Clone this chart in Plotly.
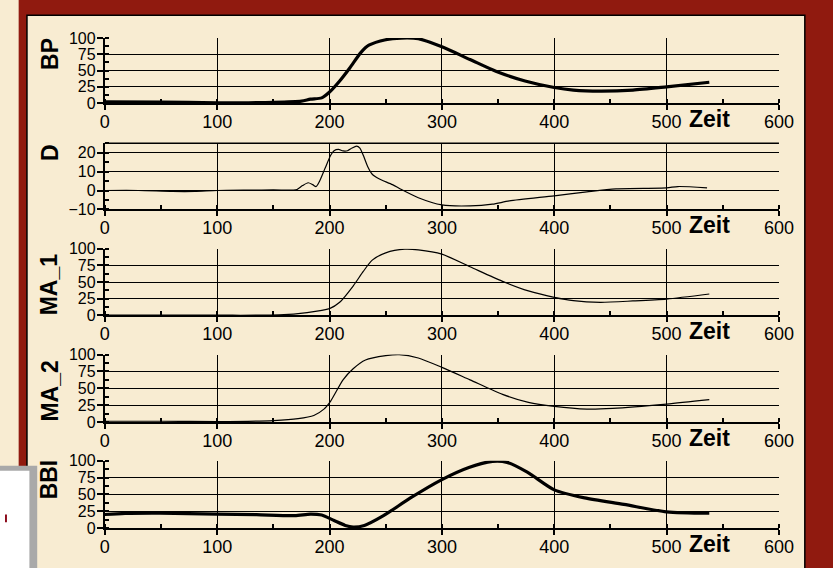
import plotly.graph_objects as go
from plotly.subplots import make_subplots

# data (Zeit on x)
bp_x = [0, 50, 100, 128, 150, 175, 183, 193, 200, 209, 218, 228, 235, 250, 264, 279, 300, 325, 348, 374, 400, 417, 441, 470, 500, 538]
bp_y = [2, 1.5, 0.5, 0.5, 1, 3, 6, 8, 17, 34, 54, 78, 89, 97.5, 100, 99, 86.5, 67, 49, 34, 24, 20, 18.4, 20, 25, 32]

d_x = [0, 30, 60, 80, 100, 130, 150, 168, 171, 176, 181, 185, 188, 191, 196, 201, 204, 208, 212, 216, 220, 224, 227,
       230, 234, 238, 244, 256, 264, 279, 300, 325, 345, 360, 400, 429, 455, 500, 510, 536]
d_y = [0, 0, -0.5, -0.5, 0, 0.2, 0.3, 0.2, 0.5, 2.6, 4.1, 3.1, 2.1, 4.8, 11.7, 18.6, 21, 21.7, 20.9, 21, 22.4, 23.4, 22.4,
       18.6, 12.6, 8.6, 6.2, 3.1, 0.5, -3.8, -7.6, -8.1, -7.2, -5.5, -2.8, -0.7, 0.9, 1.4, 2.1, 1.4]

ma1_x = [0, 100, 155, 180, 200, 209, 221, 230, 238, 250, 267, 279, 300, 325, 354, 377, 400, 417, 441, 470, 500, 538]
ma1_y = [0, 0, 0.5, 4, 10, 19.5, 44, 66, 83, 94, 99.5, 98.5, 92, 73, 51, 36.6, 27, 22, 19.5, 21.5, 24.4, 32]

ma2_x = [0, 50, 100, 150, 172, 186, 195, 201, 212, 221, 232, 250, 262, 279, 300, 325, 354, 377, 400, 429, 452, 500, 538]
ma2_y = [1, 1, 0.5, 2, 4.8, 9.6, 19, 31, 62.5, 79, 92, 98.5, 100, 95, 81, 62.5, 41, 29, 23, 19, 20, 26.4, 33]

bbi_x = [0, 18, 49, 100, 135, 169, 183, 193, 204, 214, 221, 231, 248, 272, 300, 324, 345, 358, 376, 400, 427, 462, 500, 538]
bbi_y = [20, 21.6, 22, 20.7, 19.7, 18.3, 20.7, 19.2, 11, 3.8, 1.4, 3.8, 18.3, 44.7, 72, 90, 99, 97.6, 83, 56.7, 44.7, 35, 24, 22]

panel_names = ["BP", "D", "MA_1", "MA_2", "BBI"]
series = [(bp_x, bp_y, 3.2), (d_x, d_y, 1.2), (ma1_x, ma1_y, 1.2), (ma2_x, ma2_y, 1.2), (bbi_x, bbi_y, 3.2)]

W, H = 833, 568
BG = "#F8ECD2"
RED = "#901A0F"
FONT = "Arial, Liberation Sans, sans-serif"


def fx(px):
    return px / W


def fy(py):
    return 1 - py / H


# pixel layout of the plot areas
x_left, x_right = 102.3, 793
panel_px = [(31, 98), (139.3, 207.7), (248.3, 316.7), (357.3, 426.7), (466.7, 536)]
title_px = [47.5, 148.5, 285, 394.5, 486]

fig = make_subplots(rows=5, cols=1)

for i, (xs, ys, lw) in enumerate(series):
    fig.add_trace(go.Scatter(x=xs, y=ys, mode="lines",
                             line=dict(color="black", width=lw, shape="spline", smoothing=0.7),
                             showlegend=False, hoverinfo="skip"),
                  row=i + 1, col=1)

for i in range(5):
    top, bot = panel_px[i]
    fig.update_xaxes(
        row=i + 1, col=1,
        domain=[fx(x_left), fx(x_right)],
        range=[0, 600], tick0=0, dtick=100,
        showgrid=True, gridcolor="black", gridwidth=1,
        showline=True, linecolor="black", linewidth=2,
        ticks="outside", ticklen=5, tickwidth=1.5, tickcolor="black",
        ticklabelstandoff=-4,
        tickfont=dict(family=FONT, size=18, color="black"),
        minor=dict(dtick=50, tick0=0, ticks="inside", ticklen=4, tickwidth=1.5, tickcolor="black", showgrid=False),
        zeroline=False,
    )
    yax = dict(
        domain=[fy(bot), fy(top)],
        showgrid=True, gridcolor="black", gridwidth=1,
        showline=True, linecolor="black", linewidth=2,
        ticks="outside", ticklen=6, tickwidth=1.5, tickcolor="black",
        ticklabelstandoff=-2,
        tickfont=dict(family=FONT, size=16, color="black"),
        zeroline=False,
    )
    if i == 1:
        yax.update(range=[-10, 25], tickmode="array", tickvals=[-10, 0, 10, 20],
                   minor=dict(tick0=-10, dtick=5, ticks="inside", ticklen=4, tickwidth=1.5, tickcolor="black", showgrid=False))
    else:
        yax.update(range=[0, 100], tick0=0, dtick=25,
                   minor=dict(tick0=0, dtick=12.5, ticks="inside", ticklen=4, tickwidth=1.5, tickcolor="black", showgrid=False))
    fig.update_yaxes(row=i + 1, col=1, **yax)

annotations = []
for i, name in enumerate(panel_names):
    annotations.append(dict(
        text="<b>%s</b>" % name, textangle=-90,
        xref="paper", yref="paper", x=fx(46), y=fy(title_px[i]),
        xanchor="center", yanchor="middle", showarrow=False,
        font=dict(family=FONT, size=23, color="black"),
    ))
    sfx = "" if i == 0 else str(i + 1)
    annotations.append(dict(
        text="<b>Zeit</b>", xref="x" + sfx, yref="y%s domain" % sfx,
        x=538, y=0, xanchor="center", yanchor="top", yshift=-1, showarrow=False,
        font=dict(family=FONT, size=23, color="black"),
    ))

shapes = [
    # dark red frame with thin black inner edge
    dict(type="rect", xref="paper", yref="paper", x0=fx(14), x1=1.05, y0=-0.1, y1=1.05,
         fillcolor=RED, line=dict(width=0), layer="below"),
    dict(type="rect", xref="paper", yref="paper", x0=fx(22.5), x1=fx(819.5), y0=-0.1, y1=fy(7.5),
         fillcolor=BG, line=dict(color="black", width=1.5), layer="below"),
    # little box in the lower left corner
    dict(type="rect", xref="paper", yref="paper", x0=-0.05, x1=fx(33), y0=-0.1, y1=fy(472),
         fillcolor="#A9A9A9", line=dict(width=0), layer="below"),
    dict(type="rect", xref="paper", yref="paper", x0=-0.05, x1=fx(25), y0=-0.1, y1=fy(477),
         fillcolor="white", line=dict(width=0), layer="below"),
    dict(type="rect", xref="paper", yref="paper", x0=0, x1=fx(2), y0=fy(530), y1=fy(522),
         fillcolor="#8B0A1A", line=dict(width=0), layer="below"),
    # top edge of the D panel
    dict(type="line", xref="x2 domain", yref="y2 domain", x0=0, x1=1, y0=1, y1=1,
         line=dict(color="black", width=1.5)),
]

fig.update_layout(
    width=W, height=H, autosize=False,
    margin=dict(l=0, r=0, t=0, b=0),
    paper_bgcolor=BG, plot_bgcolor="rgba(0,0,0,0)",
    font=dict(family=FONT, color="black"),
    annotations=annotations, shapes=shapes,
    showlegend=False,
)

fig.write_html("out.html", config={"displayModeBar": False},
               post_script="document.body.style.margin='0';")
